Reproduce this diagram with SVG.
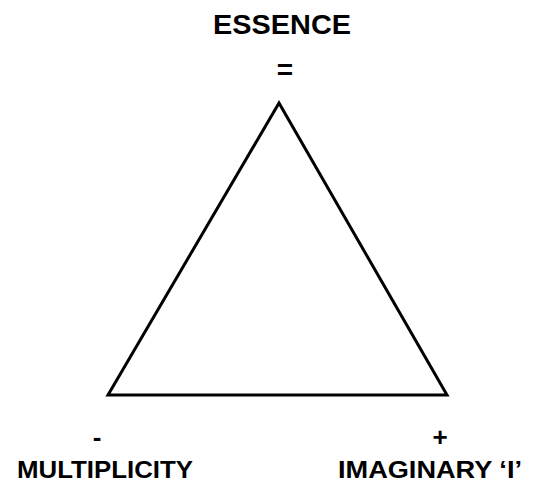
<svg xmlns="http://www.w3.org/2000/svg" width="538" height="484" viewBox="0 0 538 484">
<style>
text{font-family:"Liberation Sans",Arial,sans-serif;font-weight:bold;fill:#000}
.t{font-size:28px}
.s{font-size:26px}
.b{font-size:24px}
.e{fill:none;stroke:#000;stroke-width:3;stroke-linejoin:miter}
</style>
<rect width="538" height="484" fill="#fff"/>
<g id="triangle"><polygon class="e" points="279,103 108,395 447,395"/></g>
<g id="essence"><text class="t" x="282" y="34" text-anchor="middle" textLength="138" lengthAdjust="spacingAndGlyphs">ESSENCE</text><text class="t" x="285" y="79" text-anchor="middle">=</text></g>
<g id="multiplicity"><text class="s" x="97" y="446" text-anchor="middle">-</text><text class="b" x="17" y="478" textLength="176" lengthAdjust="spacingAndGlyphs">MULTIPLICITY</text></g>
<g id="imaginary"><text class="s" x="440" y="446" text-anchor="middle">+</text><text class="b" x="338" y="478" textLength="184" lengthAdjust="spacingAndGlyphs">IMAGINARY ‘I’</text></g>
</svg>
